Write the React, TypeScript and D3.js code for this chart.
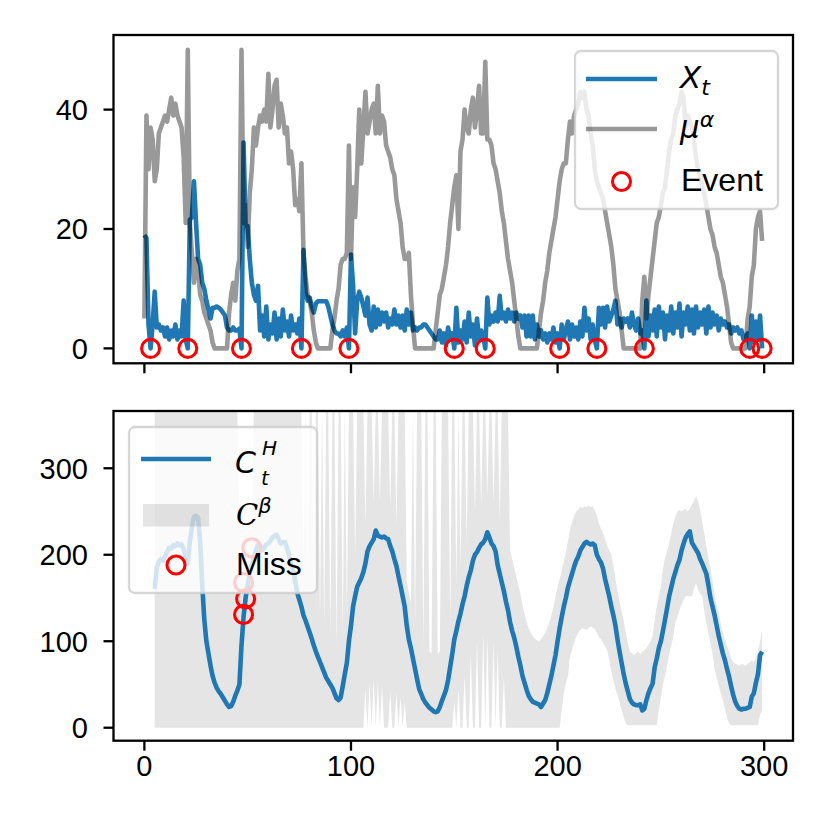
import * as d3 from 'd3';

// top panel: observed series X_t, baseline mu^alpha, detected events
const xSeries = [
  19, 18.5, 4, 0, 4, 9.5, 3.5, 4, 3, 3.5,
  2, 3.5, 1.5, 3, 2, 4, 1.5, 3, 2, 8,
  1.5, 0, 21.5, 22, 28, 21, 15, 14, 11, 10,
  8, 6.5, 5, 6.8, 6.8, 7, 6.8, 6.5, 6, 5.5,
  3.5, 3, 3, 3.5, 3, 3, 3.3, 0, 34.5, 20.5,
  20.5, 15, 11, 9, 8, 10.5, 3, 5.5, 2, 7,
  1.5, 4, 2.5, 6, 1.5, 5, 2, 6.5, 3, 4.5,
  2, 5.5, 3, 4, 2.5, 5, 0, 16.5, 9.5, 8,
  8.5, 7, 6, 7.5, 7.9, 7.9, 7.9, 7.9, 7.9, 7,
  5.5, 4, 3, 2.5, 2.5, 2, 3, 2, 3.5, 0,
  15.7, 10.7, 2.5, 8, 9.5, 8.5, 7, 5.5, 8.5, 4,
  3, 7, 3.5, 6.5, 4, 6, 4.5, 6, 3.5, 5,
  4, 6.5, 4, 5.5, 3.5, 5.5, 3, 6.5, 4, 6,
  3, 3.5, 3, 3.5, 3.5, 4, 4, 3.5, 3, 2.5,
  2, 1.5, 1.5, 3, 1, 2.5, 0.5, 3.5, 1.5, 2.5,
  0, 6.8, 1, 3, 1.5, 4.5, 1, 6, 2, 4,
  0.5, 5, 1.5, 3, 2, 0, 8.5, 4, 5.5, 4.5,
  6, 4.5, 8.8, 5, 6, 4.5, 6.5, 5, 6, 4.5,
  6, 5, 5.5, 3.5, 5.5, 2, 5.5, 2, 5.5, 1.5,
  4, 2, 3, 1.5, 2.5, 1, 2.5, 1.5, 3.5, 1,
  2.5, 0, 4, 1.5, 3, 4.5, 1.5, 4, 2, 3.5,
  1.5, 4.5, 2, 6.8, 3, 5, 1.5, 4, 1.5, 0,
  6.8, 4, 6.8, 3.5, 7, 4.5, 5.5, 6.5, 8, 4,
  5, 3.5, 5, 4.5, 5, 3.5, 6, 4, 3, 5,
  2.5, 3, 0, 8, 2, 5.5, 3, 6.5, 2, 7,
  3.5, 6, 1.5, 5.5, 3, 7, 2.5, 6, 3.5, 7.5,
  2, 6, 4, 7, 3, 6.5, 2.5, 7, 3.5, 6,
  4, 6.5, 2.5, 7, 3.5, 6, 4, 5.5, 3, 5,
  4, 4.5, 3.5, 4, 2.5, 3.5, 3, 3.5, 2.5, 3,
  1.5, 2, 2.5, 0, 5.5, 1, 4.5, 1.5, 5.5, 0,
];

const muSeries = [
  5, 39, 30, 37, 35, 28, 30, 36, 37, 38,
  39, 38, 40, 42, 39, 41, 39, 38, 37, 32,
  21, 50, 21, 16, 11, 15, 13, 9, 8, 6,
  5, 4, 3, 1, 0, 0, 0, 0, 0, 0,
  0, 6, 9, 11, 8, 13, 15, 50, 21, 24,
  17, 26, 30, 37, 34, 37, 39, 38, 40, 38,
  46, 37, 40, 44, 45, 37, 41, 39, 36, 37,
  31, 33, 30, 24, 25, 23, 31, 16, 12, 9,
  8, 6, 3, 1, 0, 0, 0, 0, 0, 0,
  0, 3, 5, 8, 10, 14, 15, 15, 16, 34,
  15, 27, 22, 30, 40, 31, 37, 43, 36, 38,
  40, 41, 36, 44, 36, 39, 38, 34, 33, 32,
  30, 29, 25, 23, 21, 17, 15, 15, 16, 9,
  4, 0, 0, 0, 0, 0, 0, 0, 0, 0,
  0, 3, 6, 9, 10, 12, 14, 17, 21, 24,
  27, 29, 20, 33, 35, 40, 37, 36, 40, 42,
  37, 40, 44, 36, 36, 48, 35, 35, 34, 31,
  30, 28, 26, 23, 21, 18, 15, 13, 11, 8,
  5, 2, 0, 0, 0, 0, 0, 0, 0, 0,
  0, 3, 6, 8, 11, 13, 16, 18, 20, 22,
  25, 28, 30, 31, 31, 35, 38, 36, 39, 40,
  41, 43, 42, 43, 40, 39, 36, 34, 30, 28,
  27, 26, 25, 23, 21, 19, 17, 14, 10, 8,
  6, 3, 0, 0, 0, 0, 0, 0, 0, 0,
  0, 8, 12, 5, 9, 12, 15, 18, 21, 22,
  24, 26, 27, 30, 33, 35, 36, 39, 40, 41,
  43, 42, 37, 39, 38, 37, 35, 32, 30, 29,
  27, 26, 24, 22, 20, 19, 17, 16, 14, 12,
  11, 9, 7, 4, 1, 0, 0, 0, 0, 0,
  0, 0, 5, 7, 12, 14, 20, 22, 23, 18,
];

const eventT = [3, 21, 47, 76, 99, 150, 165, 201, 219, 242, 293, 299];

// bottom panel: C_t^H, band C^beta (starts at t = 5), misses
const bandStart = 5;

const cH = [
  160, 185, 192, 195, 193, 198, 203, 208, 207, 211,
  210, 213, 211, 212, 206, 198, 190, 215, 232, 244,
  245, 243, 215, 165, 125, 100, 86, 72, 60, 52,
  46, 42, 39, 35, 31, 27, 24, 25, 30, 37,
  43, 50, 95, 128, 150, 165, 178, 188, 196, 205,
  212, 210, 205, 208, 212, 213, 216, 220, 222, 223,
  218, 213, 214, 215, 208, 200, 190, 182, 170, 156,
  148, 140, 130, 124, 117, 110, 103, 95, 88, 82,
  76, 70, 64, 58, 54, 50, 46, 40, 34, 32,
  35, 48, 62, 75, 100, 118, 140, 152, 163, 168,
  173, 180, 190, 204, 210, 214, 218, 228, 222, 221,
  220, 221, 219, 218, 210, 204, 195, 187, 175, 164,
  152, 140, 118, 102, 92, 80, 68, 56, 45, 39,
  33, 29, 26, 23, 21, 19, 18, 19, 24, 31,
  37, 44, 55, 70, 85, 102, 112, 123, 132, 143,
  152, 164, 174, 182, 193, 200, 203, 208, 212, 214,
  218, 226, 220, 213, 210, 204, 188, 178, 168, 158,
  146, 136, 122, 112, 104, 94, 82, 72, 60, 52,
  44, 37, 33, 30, 29, 28, 27, 24, 28, 32,
  40, 50, 60, 72, 84, 100, 115, 128, 140, 150,
  162, 170, 178, 186, 193, 198, 205, 209, 213, 215,
  213, 212, 213, 211, 200, 195, 191, 184, 172, 162,
  152, 140, 130, 118, 102, 88, 75, 62, 51, 42,
  33, 29, 27, 26, 26, 27, 20, 22, 32, 40,
  46, 51, 70, 80, 92, 100, 112, 125, 138, 152,
  162, 172, 180, 188, 194, 205, 213, 220, 224, 227,
  214, 210, 206, 202, 195, 190, 184, 178, 165, 150,
  140, 130, 118, 106, 96, 86, 78, 68, 59, 48,
  38, 30, 25, 22, 21, 22, 22, 23, 24, 36,
  40, 52, 62, 84, 88,
];

// 370 = runs off the top of the axes
const bandUpper = [
  370, 370, 370, 370, 370, 370, 370, 370, 370, 370,
  370, 370, 370, 370, 370, 370, 370, 370, 370, 370,
  370, 370, 370, 370, 370, 370, 370, 370, 370, 370,
  370, 370, 370, 370, 370, 370, 370, 370, 370, 370,
  370, 230, 230, 230, 230, 230, 230, 230, 370, 370,
  370, 370, 370, 370, 370, 370, 370, 370, 370, 370,
  370, 370, 370, 370, 370, 370, 370, 370, 370, 370,
  370, 370, 185, 370, 172, 370, 370, 150, 370, 370,
  131, 370, 119, 370, 370, 105, 370, 370, 95, 370,
  370, 105, 370, 130, 370, 370, 370, 200, 370, 370,
  370, 370, 235, 370, 370, 370, 260, 370, 370, 262,
  370, 370, 370, 370, 255, 370, 370, 235, 370, 370,
  370, 370, 170, 155, 145, 370, 125, 370, 370, 370,
  95, 370, 370, 88, 86, 370, 370, 85, 88, 370,
  370, 370, 370, 125, 370, 370, 165, 370, 185, 370,
  370, 215, 370, 370, 370, 250, 370, 370, 258, 370,
  370, 268, 370, 370, 260, 370, 370, 240, 370, 370,
  370, 370, 205, 195, 185, 175, 165, 155, 142, 132,
  122, 115, 110, 106, 103, 101, 100, 102, 106, 110,
  116, 121, 130, 140, 152, 163, 172, 182, 192, 203,
  215, 228, 238, 245, 250, 252, 256, 254, 256, 255,
  257, 255, 256, 252, 245, 236, 230, 226, 218, 210,
  205, 200, 188, 172, 158, 146, 135, 124, 110, 98,
  88, 86, 84, 86, 88, 85, 88, 90, 92, 96,
  100, 106, 125, 140, 152, 163, 185, 196, 205, 213,
  225, 236, 244, 250, 252, 250, 252, 253, 250, 253,
  258, 262, 268, 262, 252, 238, 225, 210, 196, 185,
  170, 155, 142, 134, 120, 110, 102, 95, 88, 80,
  76, 74, 73, 72, 74, 73, 72, 74, 75, 78,
  76, 80, 88, 100, 113,
];

const bandLower = [
  0, 0, 0, 0, 0, 0, 0, 0, 0, 0,
  0, 0, 0, 0, 0, 0, 0, 0, 0, 0,
  0, 0, 0, 0, 0, 0, 0, 0, 0, 0,
  0, 0, 0, 0, 0, 0, 0, 0, 0, 0,
  0, 0, 0, 0, 0, 0, 0, 0, 0, 0,
  0, 0, 0, 0, 0, 0, 0, 0, 0, 0,
  0, 0, 0, 0, 0, 0, 0, 0, 0, 0,
  0, 0, 0, 0, 0, 0, 0, 0, 0, 0,
  0, 0, 0, 0, 0, 0, 0, 0, 0, 0,
  0, 0, 0, 0, 0, 0, 0, 0, 0, 0,
  0, 0, 45, 0, 50, 0, 55, 0, 52, 0,
  48, 0, 0, 0, 42, 0, 0, 40, 0, 35,
  0, 30, 0, 0, 0, 0, 0, 0, 0, 0,
  0, 0, 0, 0, 0, 0, 0, 0, 0, 0,
  0, 0, 0, 0, 0, 30, 0, 45, 0, 0,
  60, 0, 0, 85, 0, 0, 100, 0, 0, 108,
  0, 105, 0, 0, 100, 0, 90, 0, 0, 60,
  0, 0, 0, 0, 0, 0, 0, 0, 0, 0,
  0, 0, 0, 0, 0, 0, 0, 0, 0, 0,
  0, 0, 0, 0, 0, 0, 0, 20, 40, 51,
  59, 82, 90, 98, 105, 110, 113, 115, 114, 113,
  115, 117, 116, 114, 110, 105, 102, 98, 94, 90,
  78, 65, 55, 45, 38, 30, 20, 12, 5, 3,
  3, 3, 3, 3, 3, 3, 3, 3, 3, 3,
  3, 3, 3, 3, 20, 35, 50, 60, 71, 85,
  95, 105, 121, 128, 136, 142, 148, 152, 152, 152,
  152, 160, 167, 160, 155, 152, 135, 121, 108, 98,
  85, 68, 58, 48, 40, 32, 22, 12, 5, 3,
  3, 3, 3, 3, 3, 3, 3, 3, 3, 3,
  3, 3, 3, 15, 20,
];

const missT = [48, 49, 48, 52];
const missV = [131, 149, 168, 208];

const xTicks = [0, 100, 200, 300];
const topYTicks = [0, 20, 40];
const botYTicks = [0, 100, 200, 300];

const BLUE = '#1f77b4';
const FONT = '"Liberation Sans", Arial, sans-serif';
const MATH = '"DejaVu Sans", sans-serif';
const LW = 4.6;
const MR = 9;
const MW = 3.1;

const left = 113.5;
const right = 793;
const top1 = 35;
const bot1 = 363.3;
const top2 = 411;
const bot2 = 740.7;

const x = d3.scaleLinear().domain([-14.95, 313.95]).range([left, right]);
const yTop = d3.scaleLinear().domain([-2.5, 52.5]).range([bot1, top1]);
const yBot = d3.scaleLinear().domain([-15, 366.2]).range([bot2, top2]);

const Frame = ({ y0, y1, yScale, yTicks, showX }: any) => (
  <g>
    {xTicks.map(t => (
      <g key={'x' + t}>
        <line x1={x(t)} x2={x(t)} y1={y1} y2={y1 + 10} stroke="#000" strokeWidth={2.3} />
        {showX && (
          <text x={x(t)} y={y1 + 35} textAnchor="middle" fontSize={29} fontFamily={FONT}>{t}</text>
        )}
      </g>
    ))}
    {yTicks.map((v: number) => (
      <g key={'y' + v}>
        <line x1={left - 10} x2={left} y1={yScale(v)} y2={yScale(v)} stroke="#000" strokeWidth={2.3} />
        <text x={88} y={yScale(v) + 10.4} textAnchor="end" fontSize={29} fontFamily={FONT}>{v}</text>
      </g>
    ))}
    <rect x={left} y={y0} width={right - left} height={y1 - y0} fill="none" stroke="#000" strokeWidth={2.3} />
  </g>
);

const App = () => {
  const tTop = d3.range(xSeries.length);
  const tBot = d3.range(bandStart, bandStart + cH.length);

  const xLine = d3.line<number>().x((_, i) => x(tTop[i])).y(d => yTop(d));
  const bLine = d3.line<number>().x((_, i) => x(tBot[i])).y(d => yBot(d));
  const band = d3.area<number>()
    .x((_, i) => x(tBot[i]))
    .y0((_, i) => yBot(bandLower[i]))
    .y1(d => yBot(d));

  return (
    <svg width={830} height={830} style={{ position: 'absolute', left: 0, top: 0, background: '#fff' }}>
      <defs>
        <clipPath id="c1"><rect x={left} y={top1} width={right - left} height={bot1 - top1} /></clipPath>
        <clipPath id="c2"><rect x={left} y={top2} width={right - left} height={bot2 - top2} /></clipPath>
      </defs>
      <rect width={830} height={830} fill="#fff" />

      {/* top panel */}
      <g clipPath="url(#c1)">
        <path d={xLine(xSeries) || ''} fill="none" stroke={BLUE} strokeWidth={LW} strokeLinejoin="round" />
        <path d={xLine(muSeries) || ''} fill="none" stroke="#000" strokeOpacity={0.4} strokeWidth={LW} strokeLinejoin="round" />
        {eventT.map((t, i) => (
          <circle key={i} cx={x(t)} cy={yTop(0)} r={MR} fill="none" stroke="red" strokeWidth={MW} />
        ))}
      </g>
      <Frame y0={top1} y1={bot1} yScale={yTop} yTicks={topYTicks} showX={false} />

      <g>
        <rect x={575} y={51} width={203} height={158} rx={6} fill="#fff" fillOpacity={0.8} stroke="#ccc" strokeOpacity={0.8} strokeWidth={2.3} />
        <line x1={586} x2={657} y1={79} y2={79} stroke={BLUE} strokeWidth={LW} />
        <line x1={586} x2={657} y1={129} y2={129} stroke="#000" strokeOpacity={0.4} strokeWidth={LW} />
        <circle cx={621.5} cy={181.5} r={MR} fill="none" stroke="red" strokeWidth={MW} />
        <text x={680} y={88} fontSize={31} fontFamily={MATH} fontStyle="italic">
          X<tspan fontSize={22} dy={7}>t</tspan>
        </text>
        <text x={680} y={138} fontSize={31} fontFamily={MATH} fontStyle="italic">
          μ<tspan fontSize={22} dy={-11}>α</tspan>
        </text>
        <text x={681} y={191} fontSize={32} fontFamily={FONT}>Event</text>
      </g>

      {/* bottom panel */}
      <g clipPath="url(#c2)">
        <path d={band(bandUpper) || ''} fill="#000" fillOpacity={0.1} stroke="none" />
        <path d={bLine(cH) || ''} fill="none" stroke={BLUE} strokeWidth={LW} strokeLinejoin="round" />
        {missT.map((t, i) => (
          <circle key={i} cx={x(t)} cy={yBot(missV[i])} r={MR} fill="none" stroke="red" strokeWidth={MW} />
        ))}
      </g>
      <Frame y0={top2} y1={bot2} yScale={yBot} yTicks={botYTicks} showX={true} />

      <g>
        <rect x={129} y={427} width={188} height={166} rx={6} fill="#fff" fillOpacity={0.8} stroke="#ccc" strokeOpacity={0.8} strokeWidth={2.3} />
        <line x1={141} x2={211} y1={459} y2={459} stroke={BLUE} strokeWidth={LW} />
        <rect x={143} y={504} width={66} height={22.5} fill="#000" fillOpacity={0.1} />
        <circle cx={176} cy={565} r={MR} fill="none" stroke="red" strokeWidth={MW} />
        <text x={235} y={473} fontSize={30} fontFamily={MATH} fontStyle="italic">C</text>
        <text x={262} y={455} fontSize={20} fontFamily={MATH} fontStyle="italic">H</text>
        <text x={261} y={485} fontSize={20} fontFamily={MATH} fontStyle="italic">t</text>
        <text x={236} y={525} fontSize={29} fontFamily='"DejaVu Serif", serif' fontStyle="italic">
          C<tspan fontSize={21} fontFamily={MATH} dy={-12}>β</tspan>
        </text>
        <text x={236} y={575} fontSize={32} fontFamily={FONT}>Miss</text>
      </g>
    </svg>
  );
};

export default App;
